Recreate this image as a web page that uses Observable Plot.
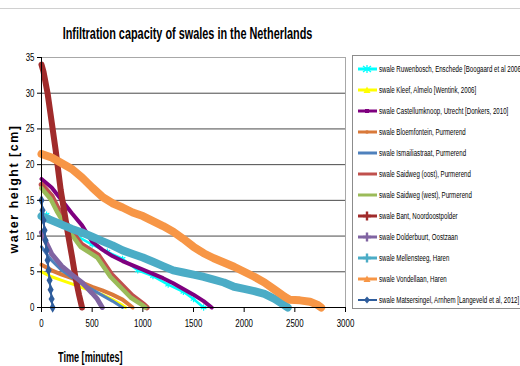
<!DOCTYPE html>
<html><head><meta charset="utf-8">
<script src="https://cdn.jsdelivr.net/npm/d3@7"></script>
<script src="https://cdn.jsdelivr.net/npm/@observablehq/plot@0.6"></script>
<style>
body{margin:0;background:#fff;}
#wrap{position:relative;width:520px;height:366px;overflow:hidden;background:#fff;font-family:"Liberation Sans",Arial,sans-serif;}
#chart{position:absolute;left:0;top:0;}
#topline{position:absolute;left:0;top:8px;width:520px;height:1px;background:#d0d0d0;}
#title{position:absolute;left:0;top:25px;width:375px;text-align:center;font-size:16px;font-weight:bold;line-height:18px;color:#000;transform:scaleX(0.68);transform-origin:187.5px 0;white-space:nowrap;}
#xlab{position:absolute;left:58px;top:350px;font-size:14px;font-weight:bold;line-height:15px;color:#000;transform:scaleX(0.65);transform-origin:0 0;white-space:nowrap;}
#ylab{position:absolute;left:14px;top:189px;transform:translate(-50%,-50%) rotate(-90deg);white-space:nowrap;font-weight:bold;font-size:12.5px;letter-spacing:1.5px;color:#000;}
#legend{position:absolute;left:352px;top:55px;width:200px;height:254px;border:1px solid #8c8c8c;box-sizing:border-box;}
.item{position:absolute;left:4px;height:12px;display:flex;align-items:center;white-space:nowrap;color:#000;}
.item svg{margin-right:1px;flex:none;}
.item span{display:inline-block;font-size:8.5px;transform:scaleX(0.72);transform-origin:0 50%;}
</style></head><body>
<div id="wrap">
<div id="topline"></div>
<div id="chart"></div>
<div id="title">Infiltration capacity of swales in the Netherlands</div>
<div id="xlab">Time [minutes]</div>
<div id="ylab">water height [cm]</div>
<div id="legend"></div>
</div>
<script>
// ---- data (time in minutes, water height in cm) ----
const names = [
  "swale Ruwenbosch, Enschede [Boogaard et al 2006]",
  "swale Kleef, Almelo [Wentink, 2006]",
  "swale Castellumknoop, Utrecht [Donkers, 2010]",
  "swale Bloemfontein, Purmerend",
  "swale  Ismailiastraat, Purmerend",
  "swale Saidweg (oost), Purmerend",
  "swale Saidweg (west), Purmerend",
  "swale Bant, Noordoostpolder",
  "swale Dolderbuurt, Oostzaan",
  "swale Mellensteeg, Haren",
  "swale Vondellaan, Haren",
  "swale Matsersingel, Arnhem [Langeveld et al, 2012]"
];
const colors = ["#00ffff","#ffff00","#7f007f","#d9793a","#4f81bd","#c0504d","#9bbb59","#a02b2b","#8064a2","#4bacc6","#f79646","#2f5d9c"];
const widths = [2.5,3,4,4,3,5.5,4.5,6,5,8,8,2];

const ruwenT = [50,200,350,500,650,800,950,1100,1250,1400,1500,1600];
const ruwenH = [13,11.5,10,8.8,7.8,6.8,5.2,4.4,3.2,2.2,1.2,0];
const kleefT = [0,100,200,300,400,500,600,700,800,830];
const kleefH = [5,4.3,3.8,3.3,2.8,2.3,1.8,1.1,0.3,0];
const castT = [0,100,200,300,400,500,600,700,800,900,1000,1100,1200,1300,1400,1500,1600,1680];
const castH = [18,16.8,15,13.2,11.5,9.2,8.1,7.2,6.5,5.9,5.3,4.7,4.1,3.4,2.6,1.8,0.9,0];
const bloemT = [0,100,200,300,400,500,600,700,800,900];
const bloemH = [6,5.2,4.6,4.1,3.5,2.9,2.4,1.8,1.1,0];
const ismT = [0,50,100,200,300,400,500,600,700,800];
const ismH = [8.5,7.5,6.6,5.2,4.2,3.3,2.5,1.7,0.9,0];
const oostT = [0,100,160,265,395,560,690,890,1010,1040];
const oostH = [17.2,15.6,13.9,11.3,8.8,7.3,4.6,1.7,0.4,0];
const westT = [0,90,150,255,385,550,680,880,1000,1025];
const westH = [16.7,15.2,13.5,11,8.5,7,4.3,1.4,0.3,0];
const bantT = [0,20,60,100,140,190,255,300,335,370,400];
const bantH = [34,33,30,26,22,16.4,10.8,7.2,4.2,1.8,0];
const dolT = [0,50,100,200,300,400,500,550,600];
const dolH = [10.5,9,7.5,5.8,4.6,3.5,2,1.2,0];
const mellT = [0,100,200,300,400,500,600,700,800,900,1000,1100,1200,1300,1400,1500,1600,1700,1800,1900,2000,2100,2200,2300,2400,2430];
const mellH = [12.8,12.2,11.6,11,10.5,9.9,9.3,8.7,8,7.5,7,6.4,5.8,5.2,4.9,4.6,4.3,3.9,3.5,2.9,2.6,2.3,1.9,1.2,0.3,0];
const vondT = [0,100,200,300,400,500,600,700,800,900,1000,1100,1200,1300,1400,1500,1600,1700,1800,1900,2000,2100,2200,2300,2400,2450,2550,2650,2720,2760];
const vondH = [21.5,21,20.2,19.4,18.2,16.8,15.5,14.6,14,13.3,12.8,12.1,11.4,10.6,9.6,8.5,7.6,6.9,6.3,5.7,5,4.3,3.5,2.5,1.5,1.1,1,0.8,0.4,0];
const matT = [0,10,20,30,40,50,60,70,80,90,100,110];
const matH = [15,13.6,12.2,10.8,9.4,8,6.6,5.2,3.8,2.5,1.2,0];

const xTicks = [0,500,1000,1500,2000,2500,3000];
const yTicks = [0,5,10,15,20,25,30,35];

const seriesT = [ruwenT,kleefT,castT,bloemT,ismT,oostT,westT,bantT,dolT,mellT,vondT,matT];
const seriesH = [ruwenH,kleefH,castH,bloemH,ismH,oostH,westH,bantH,dolH,mellH,vondH,matH];

const tables = seriesT.map((T,i)=>T.map((t,j)=>({t, h: seriesH[i][j], s: i})));

const marks = [
  Plot.ruleY(yTicks.filter(d=>d>0 && d<35), {stroke:"#4a4a4a", strokeWidth:1}),
  Plot.ruleY([35], {stroke:"#a8a8a8"}),
  Plot.ruleX([3000], {stroke:"#a8a8a8"})
];
tables.forEach((data,i)=>{
  if (i === 11) {
    marks.push(Plot.line(data,{x:"t",y:"h",stroke:colors[i],strokeWidth:widths[i]}));
    marks.push(Plot.dot(data,{x:"t",y:"h",symbol:"diamond",r:3.2,fill:colors[i]}));
  } else {
    marks.push(Plot.line(data,{x:"t",y:"h",stroke:colors[i],strokeWidth:widths[i],strokeLinejoin:"round",strokeLinecap:"round"}));
    if (i === 0) marks.push(Plot.dot(data,{x:"t",y:"h",symbol:"asterisk",r:3,stroke:colors[i],strokeWidth:1.2}));
  }
});
marks.push(
  Plot.axisX({ticks:xTicks, tickSize:5, tickPadding:7, label:null, tickFormat:d=>String(d), fontSize:11}),
  Plot.axisY({ticks:yTicks, tickSize:4, tickPadding:3, label:null, fontSize:11}),
  Plot.ruleX([0],{stroke:"#000"}),
  Plot.ruleY([0],{stroke:"#000"})
);

const chart = Plot.plot({
  width:520, height:366,
  marginLeft:41, marginRight:175, marginTop:57, marginBottom:59,
  x:{domain:[0,3000]}, y:{domain:[0,35]},
  style:{fontFamily:'"Liberation Sans",Arial,sans-serif', color:"#000", background:"transparent"},
  marks
});
// narrow the tick labels (Arial Narrow look)
chart.querySelectorAll("text").forEach(t=>{
  const tr = t.getAttribute("transform") || "";
  t.setAttribute("transform", tr + " scale(0.72,1)");
});
document.getElementById("chart").appendChild(chart);

// legend
const markerKinds = ["asterisk","tri","square","dot","none","none","none","plus","plus","plus","tri","diamond"];
const leg = document.getElementById("legend");
names.forEach((n,i)=>{
  const c = colors[i];
  let m = "";
  const k = markerKinds[i];
  if (k==="asterisk") m = `<path d="M6,3 L14,9 M14,3 L6,9 M10,2 L10,10" stroke="${c}" stroke-width="1.3"/>`;
  else if (k==="tri") m = `<path d="M10,2.5 L13.5,9 L6.5,9 Z" fill="${c}"/>`;
  else if (k==="square") m = `<rect x="8" y="4" width="4" height="4" fill="${c}"/>`;
  else if (k==="dot") m = `<circle cx="10" cy="6" r="1.8" fill="${c}"/>`;
  else if (k==="plus") m = `<path d="M10,1.5 L10,10.5 M6,6 L14,6" stroke="${c}" stroke-width="2.4"/>`;
  else if (k==="diamond") m = `<path d="M10,2.5 L13,6 L10,9.5 L7,6 Z" fill="${c}"/>`;
  const sw = i===11 ? 2 : 3;
  const div = document.createElement("div");
  div.className = "item";
  div.style.top = (7 + i*21) + "px";
  div.innerHTML = `<svg width="21" height="12"><line x1="1" y1="6" x2="20" y2="6" stroke="${c}" stroke-width="${sw}"/>${m}</svg><span>${n}</span>`;
  leg.appendChild(div);
});
</script>
</body></html>
